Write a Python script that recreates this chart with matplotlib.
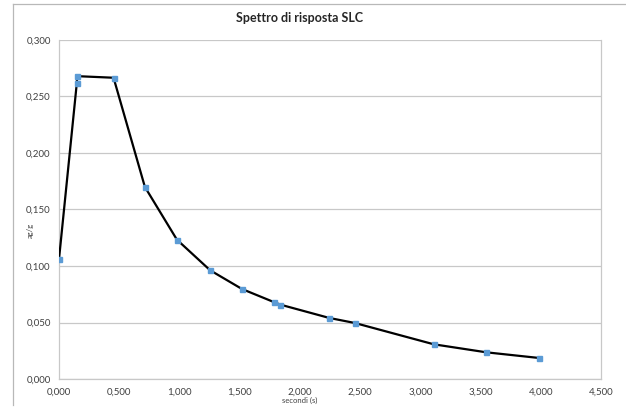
import matplotlib
matplotlib.use("Agg")
import matplotlib.pyplot as plt
from matplotlib.ticker import FuncFormatter, MultipleLocator
from matplotlib.lines import Line2D

# Data
periods = [0.000, 0.148, 0.151, 0.453, 0.713, 0.979, 1.255, 1.520, 1.788, 1.838,
           2.245, 2.455, 3.112, 3.549, 3.986]
accel = [0.106, 0.262, 0.268, 0.2666, 0.170, 0.1233, 0.0962, 0.0796, 0.0679, 0.0658,
         0.054, 0.0496, 0.0307, 0.0236, 0.0186]

title = "Spettro di risposta SLC"
xlabel = "secondi (s)"
ylabel = "ag/g"

plt.rcParams['font.family'] = ['Lato', 'DejaVu Sans']

W, H = 626, 407
fig = plt.figure(figsize=(W / 100, H / 100), dpi=100)
ax = fig.add_axes([59 / W, 1 - 379 / H, (601 - 59) / W, (379 - 40) / H])

ax.plot(periods, accel, color='black', lw=1.6, zorder=3)
ax.plot(periods, accel, linestyle='none', marker='s', ms=3.6,
        mfc='#5B9BD5', mec='#5B9BD5', zorder=4)

ax.set_xlim(0, 4.5)
ax.set_ylim(0, 0.3)
ax.xaxis.set_major_locator(MultipleLocator(0.5))
ax.yaxis.set_major_locator(MultipleLocator(0.05))
fmt = FuncFormatter(lambda v, p: f"{v:.3f}".replace('.', ','))
ax.xaxis.set_major_formatter(fmt)
ax.yaxis.set_major_formatter(fmt)
ax.tick_params(length=0, labelsize=7, colors='#404040', pad=6)
ax.grid(axis='y', color='#c8c8c8', lw=0.9)
ax.set_axisbelow(True)
for s in ['left', 'bottom', 'right', 'top']:
    ax.spines[s].set_color('#c8c8c8')
    ax.spines[s].set_linewidth(0.9)
ax.spines['top'].set_visible(False)

fig.text(300 / W, 1 - 18 / H, title, ha='center', va='center',
         fontsize=9, fontweight='bold', color='#262626')
fig.text(300 / W, 1 - 400 / H, xlabel, ha='center', va='center',
         fontsize=5.5, color='#404040')
fig.text(30 / W, 1 - 230 / H, ylabel, ha='center', va='center',
         fontsize=5.5, color='#404040', rotation=90)

# chart area border (top and left visible)
fig.add_artist(Line2D([13 / W, 1], [1 - 4 / H, 1 - 4 / H], transform=fig.transFigure,
                      color='#b8b8b8', lw=0.9))
fig.add_artist(Line2D([13 / W, 13 / W], [1 - 4 / H, 1 - 405 / H], transform=fig.transFigure,
                      color='#b8b8b8', lw=0.9))

fig.savefig("out.png", dpi=100)
